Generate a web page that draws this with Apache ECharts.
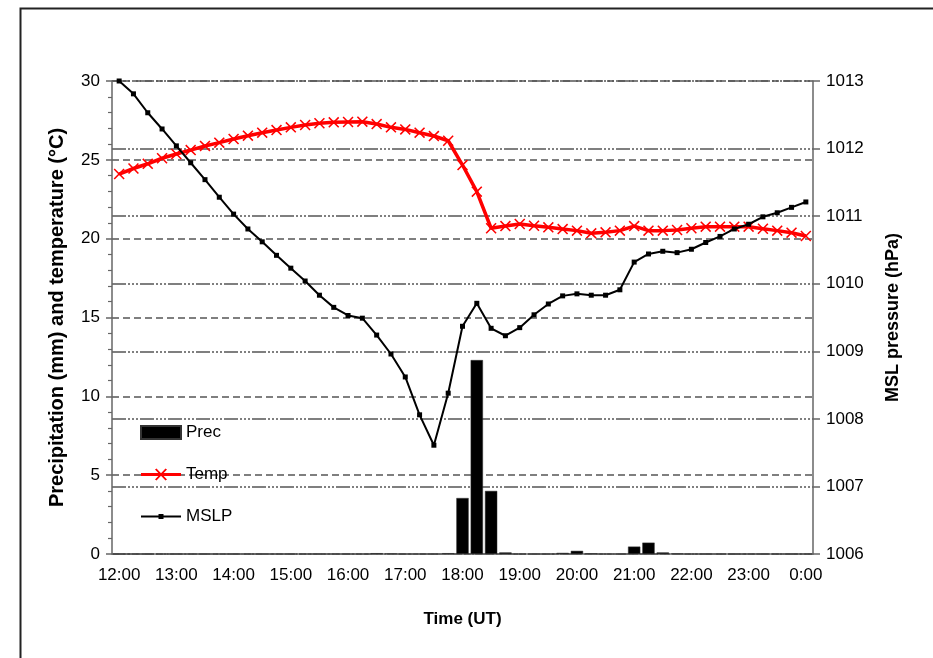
<!DOCTYPE html>
<html>
<head>
<meta charset="utf-8">
<script src="https://cdn.jsdelivr.net/npm/echarts@6/dist/echarts.min.js"></script>
<style>
html,body{margin:0;padding:0;background:#fff;}
#chart{width:933px;height:658px;}
</style>
</head>
<body>
<div id="chart"></div>
<script>
var categories = ["12:00","12:15","12:30","12:45","13:00","13:15","13:30","13:45","14:00","14:15","14:30","14:45","15:00","15:15","15:30","15:45","16:00","16:15","16:30","16:45","17:00","17:15","17:30","17:45","18:00","18:15","18:30","18:45","19:00","19:15","19:30","19:45","20:00","20:15","20:30","20:45","21:00","21:15","21:30","21:45","22:00","22:15","22:30","22:45","23:00","23:15","23:30","23:45","0:00"];

var prec = [0,0,0,0,0,0,0,0,0,0,0,0,0,0,0,0,0,0,0.05,0.03,0,0,0,0.05,3.55,12.3,4.0,0.1,0,0,0,0.07,0.2,0.04,0,0,0.47,0.72,0.1,0.03,0,0,0,0,0,0,0,0,0];

var temp = [24.1,24.45,24.75,25.1,25.37,25.62,25.88,26.09,26.32,26.53,26.72,26.89,27.06,27.21,27.32,27.38,27.4,27.42,27.27,27.06,26.93,26.72,26.51,26.21,24.67,22.98,20.66,20.8,20.93,20.82,20.72,20.61,20.51,20.34,20.4,20.51,20.8,20.51,20.51,20.55,20.66,20.76,20.76,20.76,20.76,20.63,20.51,20.38,20.17];

var mslp = [1013.0,1012.81,1012.53,1012.29,1012.04,1011.79,1011.54,1011.28,1011.03,1010.81,1010.62,1010.42,1010.23,1010.04,1009.83,1009.65,1009.53,1009.49,1009.24,1008.96,1008.62,1008.06,1007.61,1008.38,1009.37,1009.71,1009.34,1009.23,1009.35,1009.54,1009.70,1009.82,1009.85,1009.83,1009.83,1009.91,1010.32,1010.44,1010.48,1010.46,1010.51,1010.61,1010.70,1010.81,1010.88,1010.99,1011.05,1011.13,1011.21];

var FONT = "'Liberation Sans', Arial, sans-serif";
var xShape = 'path://M0,1 L1,0 L5,4 L9,0 L10,1 L6,5 L10,9 L9,10 L5,6 L1,10 L0,9 L4,5 Z';
var tempIcon = 'path://M0,5 L40,5 L40,8 L0,8 Z M14,1.5 L15.5,0.5 L26,11.5 L24.5,12.5 Z M24.5,0.5 L26,1.5 L15.5,12.5 L14,11.5 Z M0,0 L0.01,0 L0.01,0.01 Z M39.99,13 L40,13 L40,12.99 Z';
var mslpIcon = 'path://M0,5.5 L40,5.5 L40,7.5 L0,7.5 Z M17.5,4 L22.5,4 L22.5,9 L17.5,9 Z M0,0 L0.01,0 L0.01,0.01 Z M39.99,13 L40,13 L40,12.99 Z';

var chart = echarts.init(document.getElementById('chart'), null, {renderer: 'canvas'});
chart.setOption({
  animation: false,
  backgroundColor: '#fff',
  textStyle: {fontFamily: FONT, color: '#000'},
  graphic: [{
    type: 'rect', left: 18, top: 6,
    shape: {x: 0, y: 0, width: 940, height: 680},
    style: {fill: 'none', stroke: '#222', lineWidth: 2},
    silent: true, z: -1
  }],
  grid: {left: 112, right: 120, top: 81, bottom: 104, containLabel: false},
  legend: {
    orient: 'vertical', left: 140, top: 424, padding: 0,
    itemWidth: 40, itemHeight: 13, itemGap: 25,
    textStyle: {fontFamily: FONT, fontSize: 17, color: '#000'},
    data: [
      {name: 'Prec', icon: 'rect'},
      {name: 'Temp', icon: tempIcon},
      {name: 'MSLP', icon: mslpIcon}
    ]
  },
  xAxis: {
    type: 'category', data: categories, boundaryGap: true,
    name: 'Time (UT)', nameLocation: 'middle', nameGap: 57,
    nameTextStyle: {fontFamily: FONT, fontSize: 17, fontWeight: 'bold', color: '#000'},
    axisLine: {lineStyle: {color: '#666', width: 1.5}},
    axisTick: {interval: 3, length: 6, lineStyle: {color: '#666', width: 1.5}},
    axisLabel: {interval: 3, fontSize: 17, color: '#000', margin: 13, fontFamily: FONT}
  },
  yAxis: [{
    type: 'value', min: 0, max: 30, interval: 5,
    name: 'Precipitation (mm) and temperature (°C)', nameLocation: 'middle', nameGap: 45,
    nameTextStyle: {fontFamily: FONT, fontSize: 20, fontWeight: 'bold', color: '#000'},
    axisLine: {show: true, lineStyle: {color: '#666', width: 1.5}},
    axisTick: {show: true, length: 6, lineStyle: {color: '#666', width: 1.5}},
    minorTick: {show: true, splitNumber: 5, length: 4, lineStyle: {color: '#666', width: 1.2}},
    axisLabel: {fontSize: 17, color: '#000', margin: 12, fontFamily: FONT},
    splitLine: {show: true, lineStyle: {color: '#555', width: 1.5, type: [7, 4]}}
  }, {
    type: 'value', min: 1006, max: 1013, interval: 1,
    name: 'MSL pressure (hPa)', nameLocation: 'middle', nameGap: 71,
    nameTextStyle: {fontFamily: FONT, fontSize: 18, fontWeight: 'bold', color: '#000'},
    axisLine: {show: true, lineStyle: {color: '#666', width: 1.5}},
    axisTick: {show: true, length: 7, lineStyle: {color: '#666', width: 1.5}},
    axisLabel: {fontSize: 17, color: '#000', margin: 13, fontFamily: FONT,
      formatter: function (v) { return String(v); }},
    splitLine: {show: true, lineStyle: {color: '#555', width: 1.5, type: [14, 2, 2, 2, 2, 2, 2, 2]}}
  }],
  series: [{
    name: 'Prec', type: 'bar', yAxisIndex: 0, data: prec,
    barCategoryGap: '14%',
    itemStyle: {color: '#000', borderColor: '#333', borderWidth: 0.5}
  }, {
    name: 'Temp', type: 'line', yAxisIndex: 0, data: temp,
    symbol: xShape, symbolSize: 11, showAllSymbol: true,
    lineStyle: {color: '#ff0000', width: 3.5},
    itemStyle: {color: '#ff0000'},
    z: 4
  }, {
    name: 'MSLP', type: 'line', yAxisIndex: 1, data: mslp,
    symbol: 'rect', symbolSize: 5, showAllSymbol: true,
    lineStyle: {color: '#000', width: 2},
    itemStyle: {color: '#000'},
    z: 5
  }]
});
</script>
</body>
</html>
